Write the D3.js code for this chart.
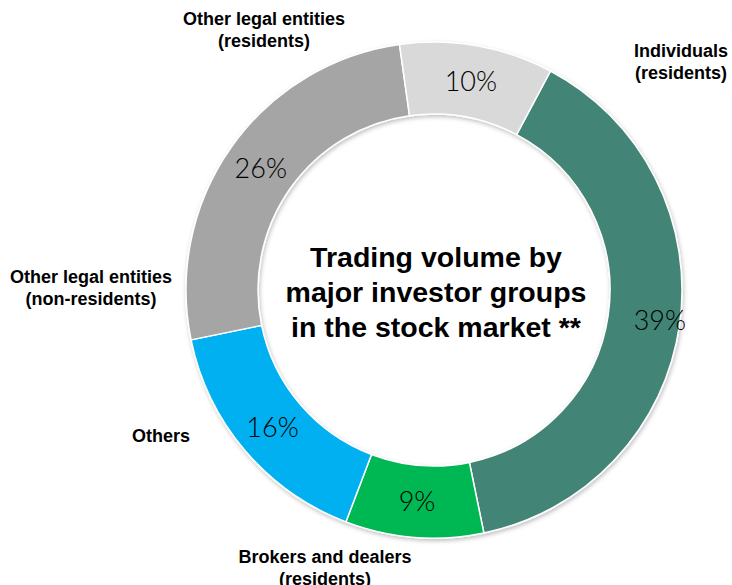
<!DOCTYPE html>
<html>
<head>
<meta charset="utf-8">
<script src="https://cdn.jsdelivr.net/npm/d3@7"></script>
<style>
  body { margin: 0; background: #fff; }
  .cat { font-family: "Liberation Sans", Arial, sans-serif; font-weight: bold; font-size: 18px; fill: #000; }
  .pct { font-family: Lato, sans-serif; font-weight: 300; font-size: 27px; fill: #000; }
  .title { font-family: "Liberation Sans", Arial, sans-serif; font-weight: bold; font-size: 28.5px; fill: #000; }
</style>
</head>
<body>
<script>
// investor groups, clockwise from the slice that starts right of top
var categories = ["Individuals (residents)", "Brokers and dealers (residents)", "Others",
                  "Other legal entities (non-residents)", "Other legal entities (residents)"];
var shares = [39, 9, 16, 26, 10];
var colors = ["#438474", "#00b853", "#00b0f0", "#a5a5a5", "#d9d9d9"];
var titleLines = ["Trading volume by", "major investor groups", "in the stock market **"];

// where each group's name sits (text boxes in the original)
var labelPos = [[681, 57], [325, 563], [161, 442], [91, 283], [264, 25]];

window.onload = drawChart();

function drawChart(){
    var w = 732, h = 585;
    var cx = 434, cy = 290, outerR = 248, innerR = 176;

    var svg = d3.select("body")
        .append("svg")
        .attr("width", w)
        .attr("height", h);

    var defs = svg.append("defs");
    defs.append("filter")
        .attr("id", "shadow")
        .attr("x", "-10%").attr("y", "-10%")
        .attr("width", "120%").attr("height", "120%")
        .append("feDropShadow")
        .attr("dx", 1).attr("dy", 2)
        .attr("stdDeviation", 2)
        .attr("flood-color", "#000")
        .attr("flood-opacity", 0.25);

    var pie = d3.pie()
        .sort(null)
        .startAngle(28 * Math.PI / 180)
        .endAngle(28 * Math.PI / 180 + 2 * Math.PI);

    var arc = d3.arc()
        .innerRadius(innerR)
        .outerRadius(outerR);

    var arcs = pie(shares);

    var g = svg.append("g")
        .attr("transform", "translate(" + cx + "," + cy + ")");

    //slices
    g.append("g")
        .attr("filter", "url(#shadow)")
        .selectAll("path")
        .data(arcs)
        .enter()
        .append("path")
        .attr("d", arc)
        .attr("fill", function(d, i){ return colors[i]; })
        .attr("stroke", "#fff")
        .attr("stroke-width", 1.5);

    //percent labels
    g.selectAll(".pct")
        .data(arcs)
        .enter()
        .append("text")
        .attr("class", "pct")
        .attr("text-anchor", "middle")
        .attr("dy", "0.36em")
        .attr("transform", function(d){
            var c = arc.centroid(d);
            // the big slice label sits a bit further out
            if (d.value === 39) c[0] += 16;
            return "translate(" + c + ")";
        })
        .text(function(d){ return d.value + "%"; });

    //center title
    g.append("text")
        .attr("class", "title")
        .attr("text-anchor", "middle")
        .selectAll("tspan")
        .data(titleLines)
        .enter()
        .append("tspan")
        .attr("x", 2)
        .attr("y", function(d, i){ return -23 + i * 35; })
        .text(function(d){ return d; });

    //group names
    svg.selectAll(".cat")
        .data(categories)
        .enter()
        .append("text")
        .attr("class", "cat")
        .attr("text-anchor", "middle")
        .each(function(d, i){
            var parts = d.split(" (");
            var t = d3.select(this);
            t.append("tspan")
                .attr("x", labelPos[i][0])
                .attr("y", labelPos[i][1])
                .text(parts[0]);
            if (parts.length > 1) {
                t.append("tspan")
                    .attr("x", labelPos[i][0])
                    .attr("y", labelPos[i][1] + 22)
                    .text("(" + parts[1]);
            }
        });
}
</script>
</body>
</html>
